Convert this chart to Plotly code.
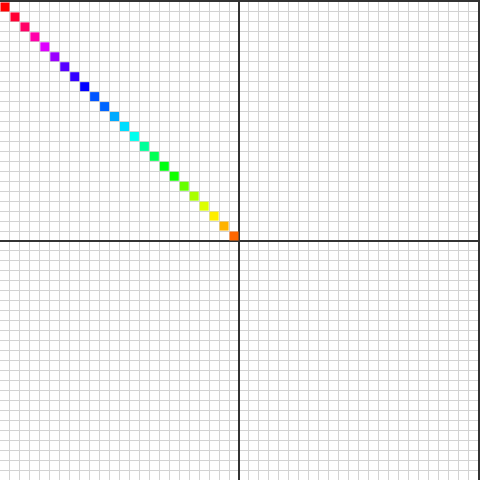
import plotly.graph_objects as go

# Square positions (cell centres) along the diagonal, upper-left quadrant
x_vals = [-23.5 + i for i in range(24)]
y_vals = [23.5 - i for i in range(24)]
colors = [
    "#FF0000", "#FF0033", "#FF0066", "#FF00AA", "#DD00FF", "#9900FF",
    "#5500FF", "#3300FF", "#0000FF", "#0055FF", "#0066FF", "#00AAFF",
    "#00DDFF", "#00FFEE", "#00FF99", "#00FF55", "#00FF11", "#11FF00",
    "#66FF00", "#AAFF00", "#DDFF00", "#FFEE00", "#FFB300", "#FF6600",
]

fig = go.Figure(
    go.Scatter(
        x=x_vals, y=y_vals, mode="markers",
        marker=dict(symbol="square", size=9, color=colors, line=dict(width=0)),
        hoverinfo="skip",
    )
)

axis_common = dict(
    range=[-24, 24], dtick=1, showgrid=True, gridcolor="#d3d3d3", gridwidth=1,
    zeroline=True, zerolinecolor="#333333", zerolinewidth=2,
    showline=True, linecolor="#333333", linewidth=2, mirror=True,
    showticklabels=False, ticks="", fixedrange=True,
)
fig.update_xaxes(**axis_common)
fig.update_yaxes(**axis_common)
fig.update_layout(
    width=480, height=480, margin=dict(l=0, r=0, t=0, b=0),
    plot_bgcolor="white", paper_bgcolor="white", showlegend=False,
)
fig.write_html(
    "out.html",
    config={"displayModeBar": False},
    post_script="document.body.style.margin='0';document.body.style.padding='0';",
)
